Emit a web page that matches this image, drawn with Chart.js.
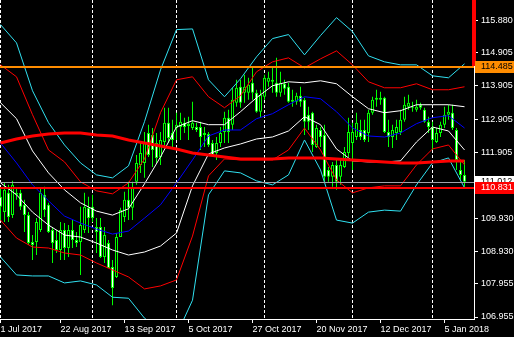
<!DOCTYPE html>
<html>
<head>
<meta charset="utf-8">
<title>USDJPY daily</title>
<script src="https://cdn.jsdelivr.net/npm/chart.js"></script>
<style>
html, body { margin: 0; padding: 0; background: #000; }
canvas { display: block; }
</style>
</head>
<body>
<canvas id="c" width="514" height="337"></canvas>
<script>
// daily bars, 1 Aug 2017 .. 12 Jan 2018 (bar index = position in arrays)
const opens = [
  110.57,110.11,110.69,110.02,110.69,110.69,110.33,110.02,109.21,109.21,
  109.57,110.63,110.33,109.57,109.27,108.97,109.57,109.03,109.57,109.27,
  109.21,109.57,110.24,110.27,109.66,109.66,108.76,109.18,108.46,108.16,
  109.36,109.96,110.48,110.24,111.02,111.53,111.59,112.49,112.43,112.19,
  111.77,112.22,112.80,112.49,112.64,112.67,112.80,112.70,112.64,112.67,
  112.67,112.49,112.46,112.19,111.89,112.19,112.52,112.95,112.74,113.40,
  113.88,113.70,113.70,114.00,113.70,113.13,113.58,114.03,114.09,114.00,
  113.70,113.97,113.88,113.49,113.43,113.61,113.49,113.04,113.10,112.07,
  112.58,112.43,111.38,111.17,111.53,111.17,111.47,111.89,112.19,112.37,
  112.58,112.58,112.49,113.10,113.55,113.49,113.55,112.52,112.37,112.49,
  112.52,112.89,113.28,113.28,113.19,113.34,113.19,112.83,112.67,112.22,
  112.49,112.74,113.04,113.10,112.58,111.38,111.23
];
const highs = [
  110.84,110.99,110.93,111.05,110.84,110.78,110.48,110.11,109.42,109.93,
  110.84,110.87,110.39,109.66,109.57,109.81,109.78,109.72,109.87,109.51,
  110.27,110.69,110.57,110.63,109.93,109.93,109.66,109.27,108.67,109.48,
  110.24,110.72,111.02,111.02,111.83,112.19,112.52,112.74,112.64,112.49,
  112.52,113.25,113.25,112.89,113.10,113.10,112.95,112.98,113.43,112.80,
  112.83,112.67,112.52,112.28,112.37,112.67,113.13,113.19,113.85,114.09,
  114.09,114.24,114.15,114.45,113.79,113.79,114.24,114.33,114.45,114.75,
  114.33,114.09,114.00,113.79,113.70,113.88,113.55,113.28,113.13,112.74,
  112.67,112.74,111.47,111.62,111.68,111.68,112.07,112.95,112.80,113.10,
  112.89,112.89,113.19,113.58,113.79,113.73,113.58,112.89,112.74,112.89,
  113.19,113.58,113.64,113.43,113.49,113.40,113.25,112.98,112.83,112.64,
  112.83,113.28,113.34,113.34,112.64,111.68,111.68
];
const lows = [
  109.87,109.81,109.81,109.93,110.48,110.17,109.51,109.12,108.67,108.82,
  109.51,109.96,109.48,108.58,108.88,108.67,108.67,108.76,109.03,109.06,
  108.22,109.48,109.48,109.81,108.88,108.73,108.58,108.43,107.31,108.13,
  109.36,109.81,109.87,109.87,110.93,111.29,111.14,111.77,111.47,111.59,
  111.53,112.07,112.19,112.04,112.28,112.28,112.49,112.28,112.58,112.52,
  111.98,112.07,112.07,111.77,111.68,112.07,112.19,112.19,112.58,113.28,
  113.25,113.40,113.49,113.49,113.10,112.95,113.49,113.88,113.70,113.58,
  113.58,113.64,113.40,113.28,113.34,113.28,112.43,112.58,111.92,112.04,
  112.07,111.02,111.02,110.87,110.78,110.93,111.44,111.77,111.38,112.28,
  112.28,112.22,112.22,113.04,113.28,113.34,112.49,112.07,112.04,112.28,
  112.43,112.83,113.19,113.13,113.13,113.19,112.80,112.49,111.98,112.19,
  112.37,112.64,112.89,112.58,111.38,111.08,110.87
];
const closes = [
  110.27,110.78,109.96,110.93,110.63,110.27,110.02,109.18,109.12,109.81,
  110.69,110.17,109.51,109.18,108.97,109.57,109.03,109.57,109.27,109.18,
  109.72,110.27,109.93,109.93,109.51,108.76,109.42,108.43,107.83,109.36,
  110.17,110.48,110.24,110.84,111.59,111.89,112.19,111.83,111.98,111.74,
  112.28,112.80,112.34,112.28,112.74,112.83,112.67,112.77,112.80,112.58,
  112.37,112.43,112.13,111.83,112.19,112.49,112.95,112.52,113.49,113.85,
  113.40,113.88,113.94,113.70,113.13,113.64,114.15,114.15,114.03,113.70,
  114.00,113.82,113.43,113.43,113.61,113.43,112.83,112.83,112.13,112.64,
  112.37,111.17,111.17,111.53,111.02,111.53,111.92,112.52,112.52,112.80,
  112.37,112.28,113.10,113.49,113.49,113.55,112.52,112.37,112.58,112.67,
  112.89,113.34,113.40,113.25,113.28,113.25,112.83,112.67,112.28,112.49,
  112.74,113.04,113.13,112.64,111.68,111.23,111.02
];

// indicator lines, read every 4th bar
const bandIdx = [0,4,8,12,16,20,24,28,32,36,40,44,48,52,56,60,64,68,72,76,80,84,88,92,96,100,104,108,112,116];
const cyanUp = [115.75,115.20,113.76,112.80,112.13,111.59,111.23,111.14,111.50,112.83,114.39,115.60,115.62,114.09,113.58,114.12,114.78,115.33,115.45,114.84,115.42,115.96,115.54,114.81,114.63,114.54,114.54,114.21,114.15,114.57];
const redUp = [114.54,114.18,113.04,111.98,111.62,111.02,110.75,110.66,110.99,111.71,113.10,114.09,114.18,113.58,113.25,113.61,114.33,114.63,114.75,114.45,114.72,114.96,114.54,114.03,113.85,113.85,113.97,113.79,113.79,113.88];
const whiteUp = [113.40,112.92,111.95,111.29,110.78,110.39,110.14,110.02,110.21,110.96,111.77,112.67,112.86,112.74,112.74,113.13,113.55,113.91,114.03,114.00,114.06,113.97,113.58,113.22,113.10,113.16,113.34,113.34,113.34,113.28];
const midLine = [112.19,111.59,110.93,110.45,109.99,109.78,109.60,109.45,109.54,109.93,110.33,110.99,111.68,112.40,112.58,112.58,112.92,113.07,113.34,113.58,113.52,113.13,112.64,112.40,112.37,112.49,112.77,112.95,113.01,112.64];
const whiteLow = [110.99,110.63,110.11,109.72,109.42,109.36,109.18,108.97,108.82,108.91,109.09,109.48,110.90,111.86,112.04,112.16,112.31,112.37,112.55,112.98,112.74,112.01,111.65,111.62,111.62,111.65,112.22,112.67,112.55,111.98];
const redLow = [109.87,109.33,109.06,109.03,108.88,108.82,108.58,108.37,108.16,107.80,107.89,108.07,109.39,111.20,111.71,111.68,111.68,111.68,111.98,112.64,111.98,111.08,110.69,110.84,110.90,110.90,111.53,112.01,112.13,111.53];
const cyanLow = [108.76,108.22,108.19,108.19,107.98,108.04,107.92,107.55,107.52,106.92,106.56,106.41,107.46,110.63,111.35,111.29,111.05,110.93,111.23,112.28,111.38,109.87,109.78,110.11,110.17,110.14,110.93,111.59,111.74,110.84];
const slowMa = [112.19,112.31,112.40,112.46,112.49,112.49,112.43,112.40,112.28,112.19,112.10,112.01,111.89,111.83,111.77,111.71,111.71,111.71,111.74,111.74,111.74,111.71,111.68,111.65,111.62,111.59,111.59,111.62,111.65,111.65];

const xTickIdx = [0,15,31,47,63,79,95,111];
const xTickText = ['1 Jul 2017','22 Aug 2017','13 Sep 2017','5 Oct 2017','27 Oct 2017','20 Nov 2017','12 Dec 2017','5 Jan 2018'];
const yTicks = [106.955,107.955,108.930,109.930,111.905,112.905,113.905,114.905,115.880];
const monthStarts = [0,23,44,66,88,108];
const resistance = 114.485;
const support = 110.831;
const bid = 111.012;

const FONT = 'Liberation Sans';

function band(vals, color, width) {
  return {
    type: 'line',
    data: bandIdx.map((b, k) => ({ x: b, y: vals[k] })),
    borderColor: color,
    borderWidth: width,
    pointRadius: 0,
    tension: 0,
    fill: false,
    order: 0
  };
}

const overlay = {
  id: 'overlay',
  beforeDatasetsDraw(chart) {
    const { ctx, chartArea: a, scales: { x } } = chart;
    ctx.save();
    ctx.strokeStyle = '#ffffff';
    ctx.lineWidth = 1;
    ctx.setLineDash([3, 2]);
    monthStarts.forEach(i => {
      const px = Math.floor(x.getPixelForValue(i)) + 0.5;
      ctx.beginPath();
      ctx.moveTo(px, a.top);
      ctx.lineTo(px, a.bottom);
      ctx.stroke();
    });
    ctx.restore();
  },
  afterDatasetsDraw(chart) {
    const { ctx, chartArea: a, scales: { y } } = chart;
    ctx.save();
    const hline = (price, color, w) => {
      const py = Math.round(y.getPixelForValue(price));
      ctx.fillStyle = color;
      ctx.fillRect(a.left, py - Math.floor(w / 2), a.right - a.left, w);
    };
    hline(bid, '#a0a0a8', 1);
    hline(resistance, '#ff8c00', 2);
    hline(support, '#ff0000', 2);
    ctx.restore();
  },
  afterDraw(chart) {
    const { ctx, chartArea: a, scales: { y } } = chart;
    ctx.save();
    const yRes = Math.round(y.getPixelForValue(resistance));
    ctx.fillStyle = '#ff0000';
    ctx.fillRect(a.right - 2, a.top, 4, yRes - a.top - 1);
    ctx.font = '9px "' + FONT + '"';
    ctx.textBaseline = 'middle';
    const tag = (price, bg, fg) => {
      const py = Math.round(y.getPixelForValue(price));
      ctx.fillStyle = bg;
      ctx.fillRect(a.right + 1, py - 6, chart.width - a.right - 1, 12);
      ctx.fillStyle = fg;
      ctx.fillText(price.toFixed(3), a.right + 7, py);
    };
    tag(bid, '#ffffff', '#000000');
    tag(resistance, '#ff8c00', '#000000');
    tag(support, '#ff0000', '#ffffff');
    ctx.restore();
  }
};

new Chart(document.getElementById('c'), {
  type: 'bar',
  data: {
    datasets: [
      band(slowMa, '#ff0000', 3),
      band(cyanUp, '#30e0f0', 1),
      band(cyanLow, '#30e0f0', 1),
      band(redUp, '#ff0000', 1),
      band(redLow, '#ff0000', 1),
      band(whiteUp, '#ffffff', 1),
      band(whiteLow, '#ffffff', 1),
      band(midLine, '#0000ff', 1),
      {
        type: 'bar',
        order: 1,
        data: opens.map((o, i) => ({ x: i, y: [o, closes[i]] })),
        backgroundColor: opens.map((o, i) => closes[i] < o ? '#ffffff' : '#000000'),
        borderColor: '#00ff00',
        borderWidth: 1,
        borderSkipped: false,
        barThickness: 3,
        grouped: false,
        inflateAmount: 0
      },
      {
        type: 'bar',
        order: 2,
        data: lows.map((l, i) => ({ x: i, y: [l, highs[i]] })),
        backgroundColor: '#00ff00',
        borderWidth: 0,
        barThickness: 1,
        grouped: false,
        inflateAmount: 0
      }
    ]
  },
  options: {
    responsive: false,
    animation: false,
    devicePixelRatio: 1,
    layout: { padding: 0 },
    plugins: { legend: { display: false }, tooltip: { enabled: false } },
    scales: {
      x: {
        type: 'linear',
        min: -0.125,
        max: 118.375,
        offset: false,
        grid: { display: true, drawOnChartArea: false, drawTicks: true, tickLength: 4, color: '#ffffff', offset: false },
        border: { display: true, color: '#ffffff' },
        ticks: {
          color: '#ffffff',
          font: { family: FONT, size: 9 },
          padding: 1,
          align: 'start',
          maxRotation: 0,
          autoSkip: false,
          callback: (v, i) => xTickText[i]
        },
        afterBuildTicks: s => { s.ticks = xTickIdx.map(v => ({ value: v })); },
        afterFit: s => { s.height = 18; s.paddingLeft = 0; s.paddingRight = 0; }
      },
      y: {
        type: 'linear',
        position: 'right',
        min: 106.895,
        max: 116.49,
        grid: { display: true, drawOnChartArea: false, drawTicks: true, tickLength: 4, color: '#ffffff' },
        border: { display: true, color: '#ffffff' },
        ticks: {
          color: '#ffffff',
          font: { family: FONT, size: 9 },
          padding: 3,
          autoSkip: false,
          callback: v => Number(v).toFixed(3)
        },
        afterBuildTicks: s => { s.ticks = yTicks.map(v => ({ value: v })); },
        afterFit: s => { s.width = 40; s.paddingTop = 0; s.paddingBottom = 0; }
      }
    }
  },
  plugins: [overlay]
});
</script>
</body>
</html>
